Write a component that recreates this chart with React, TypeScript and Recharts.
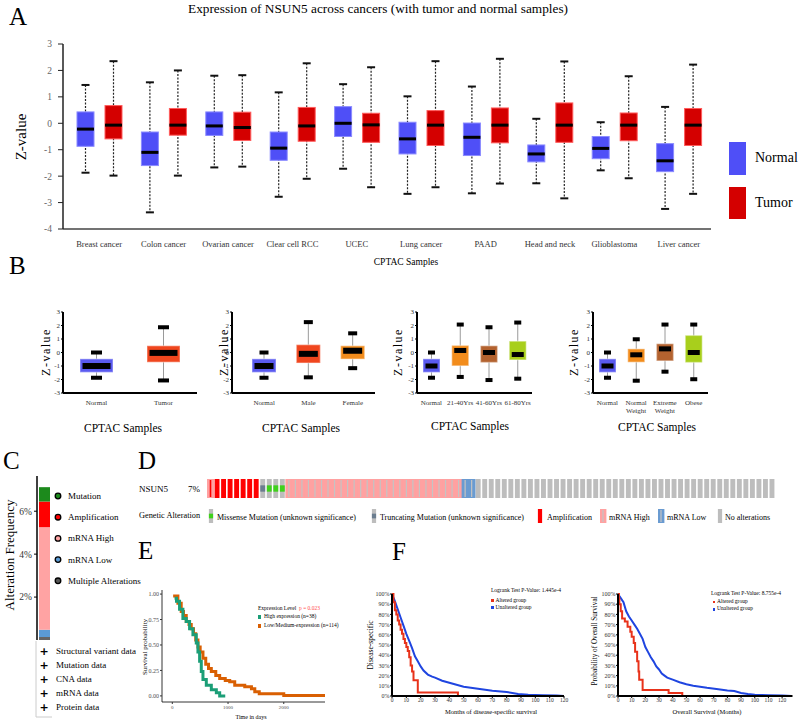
import React from 'react';
import { BarChart, Bar, XAxis, YAxis, LineChart, Line } from 'recharts';

const SERIF = '"Liberation Serif", "Times New Roman", serif';

// ---------- A: NSUN5 z-values per cancer, [lo, q1, median, q3, hi]
const cancers = ['Breast cancer', 'Colon cancer', 'Ovarian cancer', 'Clear cell RCC', 'UCEC', 'Lung cancer', 'PAAD', 'Head and neck', 'Glioblastoma', 'Liver cancer'];
const normalBox = [
  [-1.87, -0.87, -0.22, 0.43, 1.45],
  [-3.37, -1.6, -1.1, -0.33, 1.55],
  [-1.67, -0.46, -0.1, 0.43, 1.8],
  [-2.78, -1.4, -0.94, -0.33, 1.17],
  [-1.72, -0.5, 0.0, 0.63, 1.48],
  [-2.67, -1.16, -0.59, 0.04, 1.02],
  [-2.65, -1.22, -0.53, 0.01, 1.39],
  [-2.27, -1.46, -1.16, -0.82, 0.17],
  [-1.78, -1.34, -0.95, -0.5, 0.04],
  [-3.24, -1.83, -1.42, -0.77, 0.62],
];
const tumorBox = [
  [-1.98, -0.59, -0.07, 0.67, 2.35],
  [-1.98, -0.45, -0.07, 0.56, 2.0],
  [-1.64, -0.65, -0.16, 0.42, 1.82],
  [-2.1, -0.68, -0.1, 0.6, 2.27],
  [-2.42, -0.72, -0.06, 0.38, 2.12],
  [-2.42, -0.84, -0.07, 0.48, 2.35],
  [-2.28, -0.74, -0.07, 0.58, 2.44],
  [-2.84, -0.72, -0.07, 0.77, 2.34],
  [-2.08, -0.66, -0.07, 0.39, 1.78],
  [-2.67, -0.84, -0.07, 0.56, 2.22],
];
const zTicksA = [-4, -3, -2, -1, 0, 1, 2, 3];

// ---------- B: subgroup box plots
const bNormal = [-1.87, -1.47, -1.0, -0.47, 0.0];
const b1Cats = ['Normal', 'Tumor'];
const b1Box = [bNormal, [-2.07, -0.72, -0.03, 0.5, 1.87]];
const b2Cats = ['Normal', 'Male', 'Female'];
const b2Box = [bNormal, [-1.84, -0.78, -0.1, 0.58, 2.25], [-1.16, -0.49, 0.13, 0.5, 1.42]];
const b3Cats = ['Normal', '21-40Yrs', '41-60Yrs', '61-80Yrs'];
const b3Box = [bNormal, [-1.81, -0.99, 0.15, 0.52, 2.07], [-2.04, -0.74, 0.0, 0.5, 1.87], [-1.94, -0.55, -0.15, 0.84, 2.22]];
const b4Cats = ['Normal', 'Normal\nWeight', 'Extreme\nWeight', 'Obese'];
const b4Box = [bNormal, [-2.09, -0.72, -0.17, 0.27, 0.98], [-1.42, -0.62, 0.27, 0.65, 2.07], [-1.98, -0.74, 0.0, 1.27, 2.07]];
const zTicksB = [-3, -2, -1, 0, 1, 2, 3];

// ---------- C: alteration frequency (%), bottom to top
const altKeys = ['multi', 'low', 'high', 'amp', 'mut'];
const altFreq = [0.14, 0.34, 4.78, 1.19, 0.67];
const altColors = ['#666666', '#5b9bd5', '#ffa3a3', '#ff0000', '#1c8a1c'];
const altLegend = ['Mutation', 'Amplification', 'mRNA High', 'mRNA Low', 'Multiple Alterations'];
const altLegendColors = ['#1c8a1c', '#ff0000', '#ffa3a3', '#5b9bd5', '#555555'];
const profileList = ['Structural variant data', 'Mutation data', 'CNA data', 'mRNA data', 'Protein data'];

// ---------- D: oncoprint samples (runs of alteration type)
const oncoRuns: [string, number][] = [['ampHigh', 1], ['amp', 7], ['trunc', 1], ['missense', 3], ['high', 27], ['low', 2], ['none', 46]];
const oncoLegend = ['missense', 'trunc', 'amp', 'high', 'low', 'none'];
const oncoLegendText = ['Missense Mutation (unknown significance)', 'Truncating Mutation (unknown significance)', 'Amplification', 'mRNA High', 'mRNA Low', 'No alterations'];

// ---------- E: KM, time in days
const highExpr = [[40, 0.96], [75, 0.93], [130, 0.85], [190, 0.76], [250, 0.73], [310, 0.66], [370, 0.6], [430, 0.52], [460, 0.43], [490, 0.34], [520, 0.24], [550, 0.16], [610, 0.105], [700, 0.06], [790, 0.03], [850, 0.0], [950, 0.0]];
const lowExpr = [[15, 0.98], [100, 0.91], [160, 0.83], [200, 0.79], [250, 0.73], [300, 0.7], [340, 0.66], [380, 0.61], [420, 0.55], [460, 0.48], [500, 0.43], [550, 0.37], [600, 0.31], [650, 0.27], [700, 0.24], [780, 0.2], [850, 0.17], [950, 0.15], [1030, 0.14], [1120, 0.105], [1300, 0.09], [1420, 0.07], [1480, 0.04], [1560, 0.02], [2000, 0.005], [2740, 0.005]];

// ---------- F: KM, months
const dssUnaltered = [[0, 100], [2, 93], [4, 85], [6, 77], [8, 69], [10, 61], [12, 54], [14, 47], [16, 39], [18, 34], [20, 29], [22, 25], [25, 21], [28, 19], [30, 18], [35, 15], [40, 13], [45, 11], [50, 9], [55, 8], [60, 7], [70, 5.2], [80, 4], [88, 2], [95, 1.2], [105, 0.8], [115, 0.4], [120, 0]];
const dssAltered = [[0, 100], [1, 92], [2, 84], [3, 80], [4, 74], [5, 70], [6, 65], [7, 61], [8, 56], [9, 52], [10, 48], [11, 44], [12, 38], [13, 30], [14, 24], [15, 15.5], [18, 3.5], [46, 0]];
const osUnaltered = [[0, 100], [2, 96], [4, 92], [6, 83], [8, 78], [10, 74], [12, 70], [14, 66], [16, 61], [18, 56], [20, 48], [22, 43], [24, 38], [26, 34], [28, 29], [30, 26], [32, 22], [34, 20], [36, 18], [40, 16], [45, 13.5], [50, 11.5], [55, 10], [60, 9], [65, 8], [72, 6.9], [80, 5.5], [85, 4.8], [90, 3], [95, 2], [100, 1.2], [110, 0.8], [120, 0.4], [127, 0]];
const osAltered = [[0, 100], [0.7, 95], [1, 90], [2, 83], [3, 76], [5, 73], [7, 68], [9, 63], [10, 58], [11.5, 52], [12.5, 43.5], [14, 34], [15, 24], [15.5, 16], [18, 6], [37, 3], [47, 0]];
const pctTicks = [0, 10, 20, 30, 40, 50, 60, 70, 80, 90, 100];
const monthTicks = [0, 10, 20, 30, 40, 50, 60, 70, 80, 90, 100, 110, 120];

const pts = (a: number[][]) => a.map(([t, s]) => ({ t, s }));

// place a chart so its plot area lands on the given rectangle
// (y axis 30 wide, x axis 30 high)
function frame(x0: number, y0: number, x1: number, y1: number) {
  return {
    pos: { position: 'absolute' as const, left: x0 - 40, top: y0 - 10 },
    width: x1 - x0 + 50,
    height: y1 - y0 + 55,
    margin: { top: 10, right: 10, bottom: 15, left: 10 },
  };
}

function T({ x, y, size, text, anchor = 'start', rotate = false, color = '#000', style = {} }: any) {
  const tx = anchor === 'middle' || rotate ? '-50%' : anchor === 'end' ? '-100%' : '0';
  return (
    <div style={{ position: 'absolute', left: x, top: y, fontSize: size, lineHeight: 1, whiteSpace: 'nowrap', color, transform: `translate(${tx}, -50%)${rotate ? ' rotate(-90deg)' : ''}`, ...style }}>
      {text}
    </div>
  );
}

// box with dashed whiskers (panel A)
const boxA = (key: string, fill: string, edge: string) => (p: any) => {
  const s: number[] = p.payload[key];
  const top = Math.min(p.y, p.y + p.height);
  const k = Math.abs(p.height) / (s[4] - s[0]);
  const Y = (v: number) => top + (s[4] - v) * k;
  const cx = p.x + p.width / 2;
  return (
    <g>
      <line x1={cx} x2={cx} y1={Y(s[4])} y2={Y(s[0])} stroke="#222" strokeWidth={1.2} strokeDasharray="2 1.5" />
      <line x1={cx - 4} x2={cx + 4} y1={Y(s[4])} y2={Y(s[4])} stroke="#111" strokeWidth={2} />
      <line x1={cx - 4} x2={cx + 4} y1={Y(s[0])} y2={Y(s[0])} stroke="#111" strokeWidth={2} />
      <rect x={p.x} y={Y(s[3])} width={p.width} height={Y(s[1]) - Y(s[3])} fill={fill} stroke={edge} strokeWidth={1} />
      <rect x={p.x} y={Y(s[2]) - 1.5} width={p.width} height={3} fill="#000" />
    </g>
  );
};

// box with solid grey whiskers and block caps (panel B)
const boxB = (medH: number, capW: number) => (p: any) => {
  const s: number[] = p.payload.s;
  const top = Math.min(p.y, p.y + p.height);
  const k = Math.abs(p.height) / (s[4] - s[0]);
  const Y = (v: number) => top + (s[4] - v) * k;
  const cx = p.x + p.width / 2;
  return (
    <g>
      <line x1={cx} x2={cx} y1={Y(s[4])} y2={Y(s[0])} stroke="#9a9a9a" strokeWidth={1} />
      <rect x={cx - capW / 2} y={Y(s[4]) - 2} width={capW} height={4} fill="#000" />
      <rect x={cx - capW / 2} y={Y(s[0]) - 2} width={capW} height={4} fill="#000" />
      <rect x={p.x} y={Y(s[3])} width={p.width} height={Y(s[1]) - Y(s[3])} fill={p.payload.color} stroke="rgba(255,255,255,0.35)" strokeWidth={1.5} />
      <rect x={p.x + 2.5} y={Y(s[2]) - medH / 2} width={p.width - 5} height={medH} fill="#000" />
    </g>
  );
};

const CatTick = (p: any) => {
  const lines = String(p.payload.value).split('\n');
  return (
    <text x={p.x} y={p.y} textAnchor="middle" fontSize={7} fill="#333">
      {lines.map((l, i) => (
        <tspan key={i} x={p.x} dy={i === 0 ? '0.71em' : '1.2em'}>{l}</tspan>
      ))}
    </text>
  );
};

function BoxPanel({ cats, boxes, colors, rect, barSize, medH, capW, padL = 0 }: any) {
  const data = cats.map((c: string, i: number) => ({ c, s: boxes[i], color: colors[i] }));
  const f = frame(rect[0], rect[1], rect[2], rect[3]);
  return (
    <div style={f.pos}>
      <BarChart width={f.width} height={f.height} margin={f.margin} data={data} barSize={barSize}>
        <XAxis dataKey="c" height={30} interval={0} tickSize={0} tickMargin={7} tickLine={false} axisLine={{ stroke: '#000', strokeWidth: 2 }} tick={(tp: any) => <CatTick {...tp} />} padding={{ left: padL, right: 0 }} />
        <YAxis width={30} domain={[-3, 3]} ticks={zTicksB} interval={0} tickSize={2} tickMargin={1} tick={{ fontSize: 7, fill: '#333' }} axisLine={{ stroke: '#000', strokeWidth: 2 }} tickLine={{ stroke: '#000' }} />
        <Bar dataKey={(d: any) => [d.s[0], d.s[4]]} shape={boxB(medH, capW)} isAnimationActive={false} />
      </BarChart>
    </div>
  );
}

function cell(kind: string, x: number, y: number, w: number, h: number) {
  const cx = x + w / 2;
  const gw = w * 0.7;
  const gray = <rect x={cx - gw / 2} y={y} width={gw} height={h} fill="#bdbdbd" />;
  switch (kind) {
    case 'amp':
      return <rect x={cx - gw / 2} y={y} width={gw} height={h} fill="#ff0000" />;
    case 'ampHigh':
      return (
        <g>
          <rect x={x} y={y} width={w} height={h} fill="#ffa1a1" />
          <rect x={cx - 0.8} y={y + 1} width={1.6} height={h - 2} fill="#ff0000" />
        </g>
      );
    case 'high':
    case 'low':
      return (
        <g>
          <rect x={x} y={y} width={w + 0.4} height={h} fill={kind === 'high' ? '#ffa1a1' : '#6a9bd1'} />
          <rect x={cx - 0.6} y={y + 1} width={1.2} height={h - 2} fill="#c4c4c4" />
        </g>
      );
    case 'trunc':
    case 'missense':
      return (
        <g>
          {gray}
          <rect x={cx - gw / 2} y={y + h / 3} width={gw} height={h / 3} fill={kind === 'trunc' ? '#6b7d8f' : '#3fd11c'} />
        </g>
      );
    default:
      return gray;
  }
}

const oncoShape = (p: any) => cell(p.payload.type, p.x, p.y, p.width, p.height);

export default function App() {
  const aData = cancers.map((name, i) => ({ name, n: normalBox[i], t: tumorBox[i] }));
  const fa = frame(63, 44, 711, 229);

  const cRow: any = { k: 'NSUN5' };
  altKeys.forEach((k, i) => (cRow[k] = altFreq[i]));

  const oncoData: any[] = [];
  oncoRuns.forEach(([type, n]) => {
    for (let j = 0; j < n; j++) oncoData.push({ i: oncoData.length, v: 1, type });
  });
  const legendX = [209, 372, 538, 601, 659, 718];
  const legendTX = [217, 380, 547, 609, 667, 725];

  const fe = frame(162, 590, 325, 702);
  const f1 = frame(392, 594, 564, 696);
  const f2 = frame(617.5, 594, 792, 696);

  return (
    <div style={{ position: 'absolute', left: 0, top: 0, width: 800, height: 723, overflow: 'hidden', background: '#fff', fontFamily: SERIF, color: '#000' }}>
      {/* ---------------- A ---------------- */}
      <T x={9} y={16} size={25} text="A" />
      <T x={378} y={9} size={13.3} anchor="middle" text="Expression of NSUN5 across cancers (with tumor and normal samples)" />
      <div style={fa.pos}>
        <BarChart width={fa.width} height={fa.height} margin={fa.margin} data={aData} barSize={17} barGap={11}>
          <XAxis dataKey="name" height={30} interval={0} tickLine={false} tickSize={6} tickMargin={6} padding={{ left: 4, right: 0 }} tick={{ fontSize: 8.5, fill: '#333' }} axisLine={{ stroke: '#444', strokeWidth: 1.5 }} />
          <YAxis width={30} domain={[-4, 3]} ticks={zTicksA} interval={0} tickSize={5} tickMargin={6} tick={{ fontSize: 9.5, fill: '#666' }} axisLine={{ stroke: '#222', strokeWidth: 1.5 }} tickLine={{ stroke: '#222' }} />
          <Bar dataKey={(d: any) => [d.n[0], d.n[4]]} shape={boxA('n', '#4f4ff7', '#8a8aff')} isAnimationActive={false} />
          <Bar dataKey={(d: any) => [d.t[0], d.t[4]]} shape={boxA('t', '#d40000', '#ff5c5c')} isAnimationActive={false} />
        </BarChart>
      </div>
      <T x={21} y={137} size={15} rotate text="Z-value" />
      <T x={406} y={263} size={9.5} anchor="middle" text="CPTAC Samples" />
      <div style={{ position: 'absolute', left: 729, top: 142, width: 17, height: 33, background: '#4f4ff7' }} />
      <div style={{ position: 'absolute', left: 729, top: 187, width: 17, height: 32, background: '#d40000' }} />
      <T x={755} y={158} size={14} text="Normal" />
      <T x={755} y={203} size={14} text="Tumor" />

      {/* ---------------- B ---------------- */}
      <T x={9} y={265} size={25} text="B" />
      <BoxPanel cats={b1Cats} boxes={b1Box} colors={['#5a5af0', '#f0461e']} rect={[63, 312, 197, 393]} barSize={33} medH={6} capW={11} />
      <BoxPanel cats={b2Cats} boxes={b2Box} colors={['#5a5af0', '#f0461e', '#f28c1c']} rect={[232, 312, 375, 393]} barSize={24} medH={6} capW={9} padL={10} />
      <BoxPanel cats={b3Cats} boxes={b3Box} colors={['#5a5af0', '#f28c1c', '#b3622f', '#a8cf1c']} rect={[417, 312, 532, 393]} barSize={17} medH={5} capW={7} />
      <BoxPanel cats={b4Cats} boxes={b4Box} colors={['#5a5af0', '#f28c1c', '#b3622f', '#a8cf1c']} rect={[593, 312, 708, 393]} barSize={17} medH={5} capW={7} />
      {[46, 224, 398, 574].map((x) => (
        <T key={x} x={x} y={352} size={12} rotate text="Z-value" style={{ letterSpacing: 1.5 }} />
      ))}
      <T x={123} y={429} size={11.5} anchor="middle" text="CPTAC Samples" />
      <T x={301} y={429} size={11.5} anchor="middle" text="CPTAC Samples" />
      <T x={470} y={427} size={11.5} anchor="middle" text="CPTAC Samples" />
      <T x={657} y={428} size={11.5} anchor="middle" text="CPTAC Samples" />

      {/* ---------------- C ---------------- */}
      <T x={3} y={460} size={25} text="C" />
      <div style={{ position: 'absolute', left: 0, top: 466 }}>
        <BarChart width={60} height={174} margin={{ top: 10, right: 8, bottom: 0, left: 0 }} data={[cRow]} barSize={11}>
          <XAxis dataKey="k" hide />
          <YAxis width={37} domain={[0, 7.64]} ticks={[2, 4, 6]} tickFormatter={(v: number) => `${v}%`} tickSize={3} tickMargin={2} tick={{ fontSize: 9.5, fill: '#333' }} axisLine={{ stroke: '#000', strokeWidth: 1.5 }} tickLine={{ stroke: '#000' }} />
          {altKeys.map((k, i) => (
            <Bar key={k} dataKey={k} stackId="a" fill={altColors[i]} isAnimationActive={false} />
          ))}
        </BarChart>
      </div>
      <T x={9} y={555} size={13} rotate text="Alteration Frequency" />
      <svg style={{ position: 'absolute', left: 0, top: 0 }} width={160} height={723}>
        {altLegend.map((l, i) => (
          <circle key={l} cx={58} cy={496 + i * 21.2} r={2.8} fill={altLegendColors[i]} stroke="#000" strokeWidth={1.3} />
        ))}
        <line x1={36} x2={36} y1={641} y2={717} stroke="#ccc" strokeWidth={1} />
        <line x1={36} x2={52} y1={717} y2={717} stroke="#ccc" strokeWidth={1} />
      </svg>
      {altLegend.map((l, i) => (
        <T key={l} x={68} y={496 + i * 21.2} size={9} text={l} />
      ))}
      {profileList.map((l, i) => (
        <React.Fragment key={l}>
          <T x={44} y={651 + i * 14} size={11} anchor="middle" text="+" style={{ fontWeight: 'bold', fontFamily: 'DejaVu Sans' }} />
          <T x={56} y={651 + i * 14} size={9} text={l} />
        </React.Fragment>
      ))}

      {/* ---------------- D ---------------- */}
      <T x={138} y={460} size={25} text="D" />
      <T x={139} y={489} size={9} text="NSUN5" />
      <T x={188} y={489} size={9} text="7%" />
      <div style={{ position: 'absolute', left: 207, top: 479 }}>
        <BarChart width={568} height={19} margin={{ top: 0, right: 0, bottom: 0, left: 0 }} data={oncoData} barCategoryGap={0}>
          <XAxis dataKey="i" hide />
          <YAxis hide domain={[0, 1]} />
          <Bar dataKey="v" shape={oncoShape} isAnimationActive={false} />
        </BarChart>
      </div>
      <T x={139} y={516} size={8.3} text="Genetic Alteration" />
      <svg style={{ position: 'absolute', left: 0, top: 0 }} width={800} height={540}>
        {oncoLegend.map((k, i) => (
          <g key={k}>{cell(k, legendX[i] - 1, 509, 6, 14)}</g>
        ))}
      </svg>
      {oncoLegendText.map((l, i) => (
        <T key={l} x={legendTX[i]} y={518} size={8} text={l} />
      ))}

      {/* ---------------- E ---------------- */}
      <T x={138} y={550} size={25} text="E" />
      <div style={fe.pos}>
        <LineChart width={fe.width} height={fe.height} margin={fe.margin}>
          <XAxis type="number" dataKey="t" domain={[-185, 2740]} ticks={[0, 1000, 2000]} allowDataOverflow height={30} tickSize={2} tickMargin={1} tick={{ fontSize: 5, fill: '#4d4d4d' }} axisLine={{ stroke: '#000', strokeWidth: 0.8 }} tickLine={{ stroke: '#333' }} />
          <YAxis type="number" domain={[-0.06, 1.04]} ticks={[0, 0.25, 0.5, 0.75, 1]} interval={0} tickFormatter={(v: number) => v.toFixed(2)} allowDataOverflow width={30} tickSize={2} tickMargin={1} tick={{ fontSize: 6, fill: '#4d4d4d' }} axisLine={{ stroke: '#000', strokeWidth: 0.8 }} tickLine={{ stroke: '#333' }} />
          <Line data={pts(lowExpr)} dataKey="s" type="stepAfter" stroke="#d95f02" strokeWidth={3} dot={false} isAnimationActive={false} />
          <Line data={pts(highExpr)} dataKey="s" type="stepAfter" stroke="#1b9e77" strokeWidth={3} dot={false} isAnimationActive={false} />
        </LineChart>
      </div>
      <T x={145} y={647} size={7} rotate text="Survival probability" />
      <T x={251} y={717} size={6} anchor="middle" text="Time in days" />
      <T x={258} y={609} size={5.5} text="Expression Level" />
      <T x={299} y={609} size={5.5} color="#ff4d4d" text="p = 0.023" />
      <div style={{ position: 'absolute', left: 257.5, top: 615, width: 3.5, height: 4, background: '#1b9e77' }} />
      <div style={{ position: 'absolute', left: 257.5, top: 623.5, width: 3.5, height: 4, background: '#d95f02' }} />
      <T x={264} y={617} size={5.5} text="High expression (n=38)" />
      <T x={264} y={625.5} size={5.5} text="Low/Medium-expression (n=114)" />

      {/* ---------------- F ---------------- */}
      <T x={392} y={551} size={25} text="F" />
      <div style={f1.pos}>
        <LineChart width={f1.width} height={f1.height} margin={f1.margin}>
          <XAxis type="number" dataKey="t" domain={[0, 120]} ticks={monthTicks} interval={0} allowDataOverflow height={30} tickSize={2} tickMargin={0.5} tick={{ fontSize: 5.5, fill: '#333' }} axisLine={{ stroke: '#000', strokeWidth: 2 }} tickLine={{ stroke: '#000' }} />
          <YAxis type="number" domain={[0, 100]} ticks={pctTicks} interval={0} tickFormatter={(v: number) => `${v}%`} width={30} tickSize={2} tickMargin={0.5} tick={{ fontSize: 6, fill: '#333' }} axisLine={{ stroke: '#000', strokeWidth: 2 }} tickLine={{ stroke: '#000' }} />
          <Line data={pts(dssUnaltered)} dataKey="s" type="linear" stroke="#1f45e0" strokeWidth={2} dot={false} isAnimationActive={false} />
          <Line data={pts(dssAltered)} dataKey="s" type="stepAfter" stroke="#e8321a" strokeWidth={2} dot={false} isAnimationActive={false} />
        </LineChart>
      </div>
      <T x={371} y={645} size={7.5} rotate text="Disease-specific" />
      <T x={491} y={712} size={6.5} anchor="middle" text="Months of disease-specific survival" />
      <T x={491} y={591} size={5.5} text="Logrank Test P-Value: 1.445e-4" />
      <div style={{ position: 'absolute', left: 491, top: 599.3, width: 2.6, height: 2.8, background: '#e8321a' }} />
      <div style={{ position: 'absolute', left: 491, top: 606.3, width: 2.6, height: 2.8, background: '#1f45e0' }} />
      <T x={495.5} y={600.7} size={5.5} text="Altered group" />
      <T x={495.5} y={607.7} size={5.5} text="Unaltered group" />

      <div style={f2.pos}>
        <LineChart width={f2.width} height={f2.height} margin={f2.margin}>
          <XAxis type="number" dataKey="t" domain={[0, 127.6]} ticks={monthTicks} interval={0} allowDataOverflow height={30} tickSize={2} tickMargin={0.5} tick={{ fontSize: 5.5, fill: '#333' }} axisLine={{ stroke: '#000', strokeWidth: 2 }} tickLine={{ stroke: '#000' }} />
          <YAxis type="number" domain={[0, 100]} ticks={pctTicks} interval={0} tickFormatter={(v: number) => `${v}%`} width={30} tickSize={2} tickMargin={0.5} tick={{ fontSize: 6, fill: '#333' }} axisLine={{ stroke: '#000', strokeWidth: 2 }} tickLine={{ stroke: '#000' }} />
          <Line data={pts(osUnaltered)} dataKey="s" type="linear" stroke="#1f45e0" strokeWidth={2} dot={false} isAnimationActive={false} />
          <Line data={pts(osAltered)} dataKey="s" type="stepAfter" stroke="#e8321a" strokeWidth={2} dot={false} isAnimationActive={false} />
        </LineChart>
      </div>
      <T x={595.5} y={641} size={7.2} rotate text="Probability of Overall Survival" />
      <T x={707} y={712} size={6.5} anchor="middle" text="Overall Survival (Months)" />
      <T x={711} y={594} size={5.5} text="Logrank Test P-Value: 8.755e-4" />
      <div style={{ position: 'absolute', left: 712.5, top: 600.5, width: 2.6, height: 2.8, background: '#e8321a' }} />
      <div style={{ position: 'absolute', left: 712.5, top: 607.8, width: 2.6, height: 2.8, background: '#1f45e0' }} />
      <T x={717} y={602} size={5.5} text="Altered group" />
      <T x={717} y={609.3} size={5.5} text="Unaltered group" />
    </div>
  );
}
